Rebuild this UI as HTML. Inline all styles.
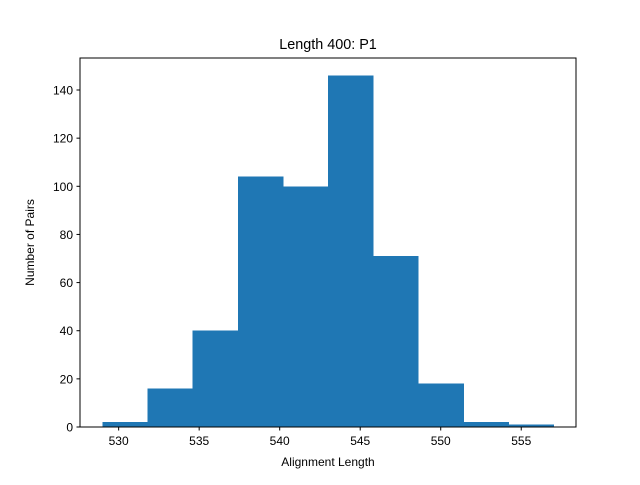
<!DOCTYPE html>
<html><head><meta charset="utf-8"><style>body{margin:0;background:#fff}</style></head>
<body>
<svg id="chart" width="640" height="480" xmlns="http://www.w3.org/2000/svg" font-family="'Liberation Sans', 'DejaVu Sans', sans-serif">
<rect width="640" height="480" fill="#fff"/>
<text x="328" y="49" text-anchor="middle" font-size="14.4">Length 400: P1</text>
<g id="bars" shape-rendering="crispEdges"></g>
<rect x="80" y="58" width="496" height="369" fill="none" stroke="#000" stroke-width="1"/>
<g id="axes" font-size="12"></g>
<text x="328" y="466" text-anchor="middle" font-size="12">Alignment Length</text>
<text transform="translate(34,242.5) rotate(-90)" text-anchor="middle" font-size="12">Number of Pairs</text>
</svg>
<script>
const binStart = 529;
const binEnd = 557;
const counts = [2, 16, 40, 104, 100, 146, 71, 18, 2, 1];
const xTicks = [530, 535, 540, 545, 550, 555];
const yTicks = [0, 20, 40, 60, 80, 100, 120, 140];
const NS = "http://www.w3.org/2000/svg";
const L = 80, R = 576, T = 58, B = 427;
const span = binEnd - binStart;
const xmin = binStart - span * 0.05, xmax = binEnd + span * 0.05;
const ymax = Math.max(...counts) * 1.05;
const xs = v => L + (v - xmin) / (xmax - xmin) * (R - L);
const ys = v => B - v / ymax * (B - T);
const bars = document.getElementById('bars');
const w = span / counts.length;
counts.forEach((c, i) => {
  const r = document.createElementNS(NS, 'rect');
  const x0 = xs(binStart + i * w), x1 = xs(binStart + (i + 1) * w);
  r.setAttribute('x', x0); r.setAttribute('width', x1 - x0 + 0.5);
  r.setAttribute('y', ys(c)); r.setAttribute('height', B - ys(c));
  r.setAttribute('fill', '#1f77b4');
  
  
  bars.appendChild(r);
});
const axes = document.getElementById('axes');
xTicks.forEach(t => {
  const x = xs(t);
  const l = document.createElementNS(NS, 'line');
  l.setAttribute('x1', x); l.setAttribute('x2', x); l.setAttribute('y1', B); l.setAttribute('y2', B + 3.5);
  l.setAttribute('stroke', '#000');
  
  
  axes.appendChild(l);
  const tx = document.createElementNS(NS, 'text');
  tx.setAttribute('x', x); tx.setAttribute('y', B + 18); tx.setAttribute('text-anchor', 'middle');
  tx.textContent = t;
  
  
  axes.appendChild(tx);
});
yTicks.forEach(t => {
  const y = ys(t);
  const l = document.createElementNS(NS, 'line');
  l.setAttribute('x1', L - 3.5); l.setAttribute('x2', L); l.setAttribute('y1', y); l.setAttribute('y2', y);
  l.setAttribute('stroke', '#000');
  
  
  axes.appendChild(l);
  const tx = document.createElementNS(NS, 'text');
  tx.setAttribute('x', L - 7); tx.setAttribute('y', y + 4.5); tx.setAttribute('text-anchor', 'end');
  tx.textContent = t;
  
  
  axes.appendChild(tx);
});
</script>
</body></html>
